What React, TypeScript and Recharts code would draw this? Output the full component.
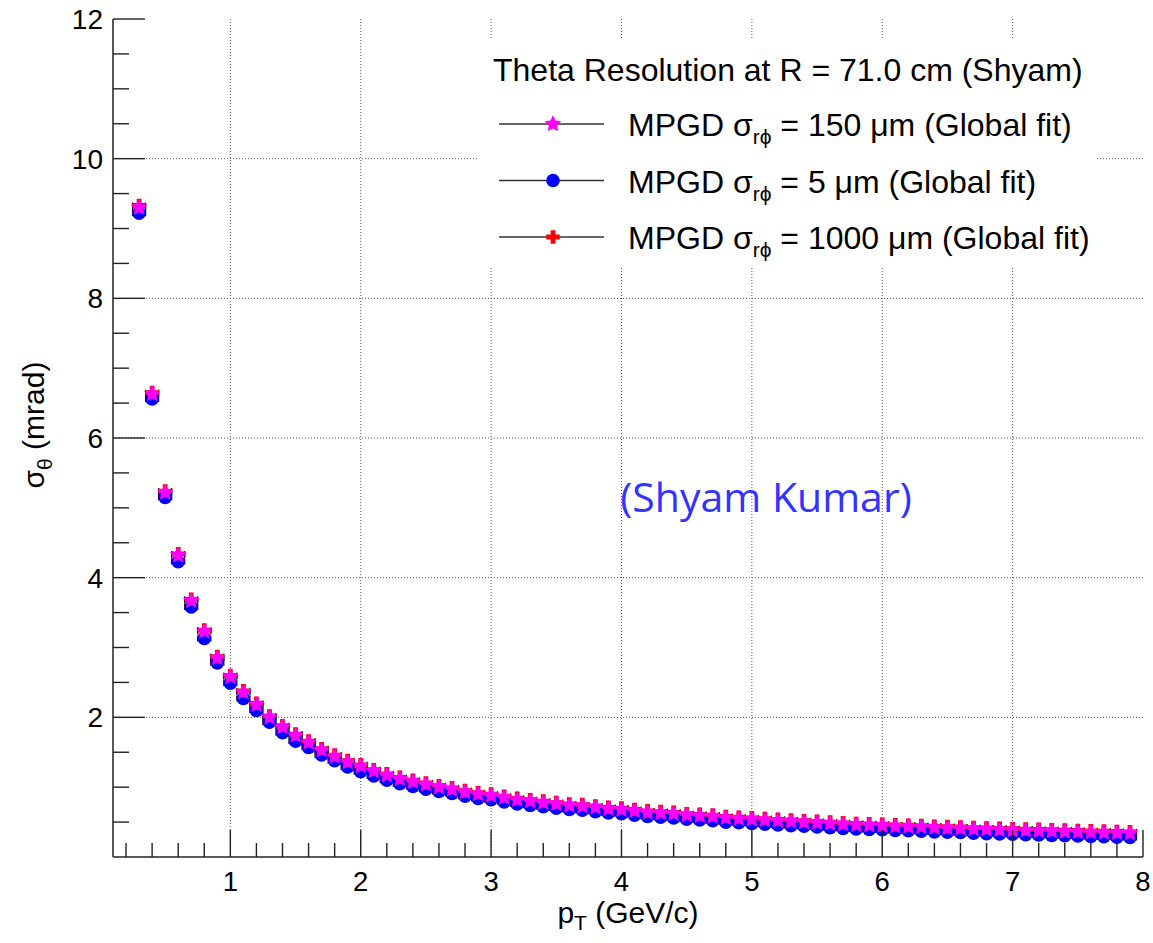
import React from 'react';
import { ScatterChart, Scatter, XAxis, YAxis, CartesianGrid, ErrorBar, Legend } from 'recharts';

// pT bin centres (GeV/c)
const PT = [
  0.3, 0.4, 0.5, 0.6, 0.7, 0.8, 0.9,
  1.0, 1.1, 1.2, 1.3, 1.4, 1.5, 1.6, 1.7, 1.8, 1.9,
  2.0, 2.1, 2.2, 2.3, 2.4, 2.5, 2.6, 2.7, 2.8, 2.9,
  3.0, 3.1, 3.2, 3.3, 3.4, 3.5, 3.6, 3.7, 3.8, 3.9,
  4.0, 4.1, 4.2, 4.3, 4.4, 4.5, 4.6, 4.7, 4.8, 4.9,
  5.0, 5.1, 5.2, 5.3, 5.4, 5.5, 5.6, 5.7, 5.8, 5.9,
  6.0, 6.1, 6.2, 6.3, 6.4, 6.5, 6.6, 6.7, 6.8, 6.9,
  7.0, 7.1, 7.2, 7.3, 7.4, 7.5, 7.6, 7.7, 7.8, 7.9,
];

// sigma_theta (mrad), MPGD sigma_rphi = 150 um
const SIG_150 = [
  9.30, 6.63, 5.22, 4.32, 3.67, 3.23, 2.85,
  2.58, 2.36, 2.18, 2.00, 1.86, 1.74, 1.64, 1.53, 1.44, 1.36,
  1.30, 1.23, 1.17, 1.12, 1.08, 1.04, 1.00, 0.97, 0.93, 0.90,
  0.88, 0.85, 0.82, 0.80, 0.78, 0.76, 0.74, 0.73, 0.71, 0.69,
  0.68, 0.66, 0.64, 0.63, 0.62, 0.60, 0.59, 0.58, 0.56, 0.55,
  0.54, 0.53, 0.52, 0.51, 0.50, 0.49, 0.48, 0.47, 0.46, 0.455,
  0.45, 0.44, 0.435, 0.43, 0.42, 0.415, 0.41, 0.40, 0.395, 0.39,
  0.385, 0.38, 0.375, 0.37, 0.365, 0.36, 0.355, 0.35, 0.345, 0.34,
];

// MPGD sigma_rphi = 5 um
const SIG_5 = [
  9.22, 6.56, 5.15, 4.23, 3.58, 3.13, 2.78,
  2.49, 2.27, 2.10, 1.93, 1.78, 1.66, 1.57, 1.46, 1.38, 1.29,
  1.22, 1.16, 1.10, 1.05, 1.01, 0.97, 0.94, 0.91, 0.87, 0.84,
  0.82, 0.79, 0.76, 0.74, 0.72, 0.70, 0.68, 0.67, 0.65, 0.63,
  0.62, 0.60, 0.58, 0.57, 0.56, 0.54, 0.53, 0.52, 0.50, 0.49,
  0.48, 0.47, 0.46, 0.45, 0.44, 0.43, 0.42, 0.41, 0.40, 0.395,
  0.39, 0.38, 0.375, 0.37, 0.36, 0.355, 0.35, 0.34, 0.335, 0.33,
  0.325, 0.32, 0.315, 0.31, 0.305, 0.30, 0.295, 0.29, 0.285, 0.28,
];

// MPGD sigma_rphi = 1000 um
const SIG_1000 = [
  9.33, 6.65, 5.24, 4.34, 3.69, 3.25, 2.87,
  2.60, 2.38, 2.20, 2.02, 1.88, 1.76, 1.66, 1.55, 1.46, 1.38,
  1.32, 1.25, 1.19, 1.14, 1.10, 1.06, 1.02, 0.99, 0.95, 0.92,
  0.90, 0.87, 0.84, 0.82, 0.80, 0.78, 0.76, 0.75, 0.73, 0.71,
  0.70, 0.68, 0.66, 0.65, 0.64, 0.62, 0.61, 0.60, 0.58, 0.57,
  0.56, 0.55, 0.54, 0.53, 0.52, 0.51, 0.50, 0.49, 0.48, 0.475,
  0.47, 0.46, 0.455, 0.45, 0.44, 0.435, 0.43, 0.42, 0.415, 0.41,
  0.405, 0.40, 0.395, 0.39, 0.385, 0.38, 0.375, 0.37, 0.365, 0.36,
];

// half bin width used for the x error bars
const PT_ERR = 0.05;

const X_LABELS = [1, 2, 3, 4, 5, 6, 7, 8];
const Y_LABELS = [2, 4, 6, 8, 10, 12];
const X_TICKS = Array.from({ length: 40 }, (_, i) => +((i + 1) * 0.2).toFixed(1));
const Y_TICKS = Array.from({ length: 24 }, (_, i) => (i + 1) * 0.5);

const FONT = '"Liberation Sans", Arial, Helvetica, sans-serif';
const AXIS_COLOR = '#222';

const toRows = (vals: number[]) => PT.map((p, i) => ({ p, v: vals[i], ex: PT_ERR }));

// ROOT-like markers
function starShape(cx: number, cy: number, color: string) {
  const R = 8.8;
  const r = 4.4;
  const pts: string[] = [];
  for (let i = 0; i < 10; i++) {
    const a = (-90 + i * 36) * (Math.PI / 180);
    const rad = i % 2 === 0 ? R : r;
    pts.push(`${cx + rad * Math.cos(a)},${cy + rad * Math.sin(a)}`);
  }
  return <polygon points={pts.join(' ')} fill={color} />;
}

function circleShape(cx: number, cy: number, color: string) {
  return <circle cx={cx} cy={cy} r={6.8} fill={color} />;
}

function crossShape(cx: number, cy: number, color: string) {
  const L = 6.8;
  const t = 2.4;
  const d = `M${cx - t},${cy - L}H${cx + t}V${cy - t}H${cx + L}V${cy + t}H${cx + t}V${cy + L}H${cx - t}V${cy + t}H${cx - L}V${cy - t}H${cx - t}Z`;
  return <path d={d} fill={color} />;
}

const SERIES = [
  { key: 's150', label: '150', data: toRows(SIG_150), color: '#ff00ff', marker: starShape },
  { key: 's5', label: '5', data: toRows(SIG_5), color: '#0000ff', marker: circleShape },
  { key: 's1000', label: '1000', data: toRows(SIG_1000), color: '#ff0000', marker: crossShape },
];

// draw order: red under blue under magenta
const DRAW_ORDER = ['s1000', 's5', 's150'];

function BottomTick(props: any) {
  const { x, y, payload } = props;
  const major = X_LABELS.includes(payload.value);
  return (
    <g>
      <line x1={x} x2={x} y1={y} y2={y - (major ? 27 : 14)} stroke={AXIS_COLOR} strokeWidth={1.4} />
      {major && (
        <text x={x} y={y + 34} textAnchor="middle" fontFamily={FONT} fontSize={27.5} fill="#000">
          {payload.value}
        </text>
      )}
    </g>
  );
}

function TopTick(props: any) {
  const { x, y, payload } = props;
  const major = X_LABELS.includes(payload.value);
  return <line x1={x} x2={x} y1={y} y2={y + (major ? 24 : 13)} stroke={AXIS_COLOR} strokeWidth={1.4} />;
}

function LeftTick(props: any) {
  const { x, y, payload } = props;
  const major = Y_LABELS.includes(payload.value);
  return (
    <g>
      <line x1={x} x2={x + (major ? 32 : 16)} y1={y} y2={y} stroke={AXIS_COLOR} strokeWidth={1.4} />
      {major && (
        <text x={x - 10} y={y} dy="0.36em" textAnchor="end" fontFamily={FONT} fontSize={28} fill="#000">
          {payload.value}
        </text>
      )}
    </g>
  );
}

function RightTick(props: any) {
  const { x, y, payload } = props;
  const major = Y_LABELS.includes(payload.value);
  return <line x1={x} x2={x - (major ? 31 : 16)} y1={y} y2={y} stroke={AXIS_COLOR} strokeWidth={1.4} />;
}

function XTitle(props: any) {
  const { x, y, width } = props.viewBox;
  return (
    <text x={x + width / 2} y={y + 66} textAnchor="middle" fontFamily={FONT} fontSize={30} fill="#000" style={{ whiteSpace: 'pre' }}>
      p<tspan dy={7} fontSize={21}>T</tspan>
      <tspan dy={-7}> (GeV/c)</tspan>
    </text>
  );
}

function YTitle(props: any) {
  const { x, y, height } = props.viewBox;
  const cx = x + 44;
  const cy = y + height / 2 - 13;
  return (
    <text x={cx} y={cy} transform={`rotate(-90, ${cx}, ${cy})`} textAnchor="middle" fontFamily={FONT} fontSize={30} fill="#000" style={{ whiteSpace: 'pre' }}>
      σ<tspan dy={8} fontSize={21}>θ</tspan>
      <tspan dy={-8}> (mrad)</tspan>
    </text>
  );
}

function LegendBox() {
  return (
    <div style={{ width: 618, height: 229, background: '#fff' }}>
      <svg width={618} height={229}>
        <text x={15} y={43} fontFamily={FONT} fontSize={32} fill="#000">
          Theta Resolution at R = 71.0 cm (Shyam)
        </text>
        {SERIES.map((s, i) => {
          const cy = 86 + i * 56.5;
          return (
            <g key={s.key}>
              <line x1={21} x2={126} y1={cy} y2={cy} stroke="#333" strokeWidth={1.5} />
              {s.marker(75, cy, s.color)}
              <text x={150} y={cy + 12} fontFamily={FONT} fontSize={32} fill="#000" style={{ whiteSpace: 'pre' }}>
                MPGD σ<tspan dy={8} fontSize={21}>rϕ</tspan>
                <tspan dy={-8}>{` = ${s.label} μm (Global fit)`}</tspan>
              </text>
            </g>
          );
        })}
      </svg>
    </div>
  );
}

export default function App() {
  const ordered = DRAW_ORDER.map((k) => SERIES.find((s) => s.key === k)!);
  return (
    <div style={{ position: 'absolute', left: 0, top: 0, width: 1153, height: 943, background: '#fff' }}>
      <ScatterChart width={1153} height={943} margin={{ top: 19, right: 10, bottom: 0, left: 0 }}>
        <CartesianGrid
          stroke="#555"
          strokeDasharray="1 2"
          verticalValues={[1, 2, 3, 4, 5, 6, 7]}
          horizontalValues={[2, 4, 6, 8, 10]}
        />
        <XAxis
          type="number"
          dataKey="p"
          domain={[0.1, 8]}
          allowDataOverflow
          ticks={X_TICKS}
          interval={0}
          tickSize={0}
          tickMargin={0}
          tickLine={false}
          tick={<BottomTick />}
          height={86}
          axisLine={{ stroke: AXIS_COLOR, strokeWidth: 1.5 }}
          label={<XTitle />}
        />
        <XAxis
          xAxisId="top"
          orientation="top"
          type="number"
          domain={[0.1, 8]}
          allowDataOverflow
          ticks={X_TICKS}
          interval={0}
          tickSize={0}
          tickMargin={0}
          tickLine={false}
          tick={<TopTick />}
          height={0}
          axisLine={{ stroke: AXIS_COLOR, strokeWidth: 1.5 }}
        />
        <YAxis
          type="number"
          dataKey="v"
          domain={[0, 12]}
          allowDataOverflow
          ticks={Y_TICKS}
          interval={0}
          tickSize={0}
          tickMargin={0}
          tickLine={false}
          tick={<LeftTick />}
          width={113}
          axisLine={{ stroke: AXIS_COLOR, strokeWidth: 1.5 }}
          label={<YTitle />}
        />
        <YAxis
          yAxisId="right"
          orientation="right"
          type="number"
          domain={[0, 12]}
          allowDataOverflow
          ticks={Y_TICKS}
          interval={0}
          tickSize={0}
          tickMargin={0}
          tickLine={false}
          tick={<RightTick />}
          width={0}
          axisLine={{ stroke: AXIS_COLOR, strokeWidth: 1.5 }}
        />
        {ordered.map((s) => (
          <Scatter
            key={s.key}
            name={s.key}
            data={s.data}
            fill={s.color}
            isAnimationActive={false}
            shape={(p: any) => s.marker(p.cx, p.cy, s.color)}
          >
            <ErrorBar dataKey="ex" direction="x" width={3} stroke="#000" strokeWidth={1.2} isAnimationActive={false} />
          </Scatter>
        ))}
        <Legend
          layout="horizontal"
          verticalAlign="middle"
          align="center"
          content={() => <LegendBox />}
          wrapperStyle={{ left: 478, top: 38, width: 618, height: 229 }}
        />
      </ScatterChart>
      <svg width={1153} height={943} style={{ position: 'absolute', left: 0, top: 0, pointerEvents: 'none' }}>
        <text x={766} y={512} textAnchor="middle" fontFamily='"Open Sans", sans-serif' fontSize={41} fill="#3333ff">
          (Shyam Kumar)
        </text>
      </svg>
    </div>
  );
}
